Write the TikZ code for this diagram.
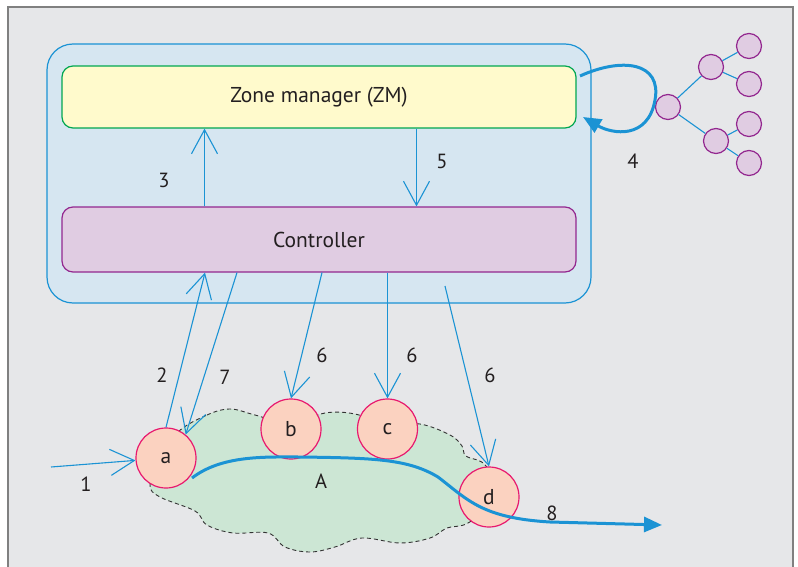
\documentclass[tikz,border=0pt]{standalone}
\usepackage{fontspec}
\setmainfont{PT Sans}
\usetikzlibrary{arrows.meta,calc}
\definecolor{panel}{HTML}{E6E7E9}
\definecolor{frameline}{HTML}{808080}
\definecolor{linkblue}{HTML}{1B93D4}
\definecolor{zonefill}{HTML}{D6E6F1}
\definecolor{zmfill}{HTML}{FFFACC}
\definecolor{zmline}{HTML}{00A651}
\definecolor{ctlfill}{HTML}{E0CCE2}
\definecolor{ctlline}{HTML}{93278F}
\definecolor{peerfill}{HTML}{FBD2C0}
\definecolor{peerline}{HTML}{E8196E}
\definecolor{cloudfill}{HTML}{CCE6D4}
\definecolor{ink}{HTML}{231F20}
\begin{document}
\begin{tikzpicture}[x=1pt,y=-1pt,
  every node/.style={text=ink},
  zonebox/.style={draw=linkblue,fill=zonefill,line width=1.2pt,rounded corners=26pt,
    minimum width=544pt,minimum height=259pt,inner sep=0pt},
  zmbox/.style={draw=zmline,fill=zmfill,line width=1.2pt,rounded corners=11pt,
    minimum width=514pt,minimum height=62pt,font=\fontsize{21.5}{24}\selectfont},
  ctlbox/.style={draw=ctlline,fill=ctlfill,line width=1.2pt,rounded corners=11pt,
    minimum width=514pt,minimum height=65pt,font=\fontsize{21.5}{24}\selectfont},
  peer/.style={circle,draw=peerline,fill=peerfill,line width=1.2pt,minimum size=60pt,
    inner sep=0pt,font=\fontsize{21.5}{24}\selectfont},
  treenode/.style={circle,draw=ctlline,fill=ctlfill,line width=1.2pt,minimum size=25pt,inner sep=0pt},
  msg/.style={draw=linkblue,line width=1.1pt,-{Straight Barb[length=24pt,width=26pt,line width=1.1pt]}},
  flow/.style={draw=linkblue,line width=3pt,-{Triangle[length=18pt,width=15pt]}},
  lbl/.style={font=\fontsize{20.5}{24}\selectfont,inner sep=0pt},
  treeedge/.style={draw=linkblue,line width=1.1pt}]
\useasboundingbox (0,0) rectangle (798,567);
% panel with its grey frame
\fill[panel] (8,7) rectangle (793,567);
\draw[frameline,line width=1.5pt] (8,567) -- (8,7) -- (793,7) -- (793,567);

% zone container, zone manager and controller
\node[zonebox] (zone) at (319,173.5) {};
\node[zmbox] (zm) at (319,97) {Zone manager (ZM)};
\node[ctlbox] (ctrl) at (319,239.5) {Controller};

% cloud of zone A
\draw[black!80,dashed,line width=0.9pt,dash pattern=on 4pt off 3pt,fill=cloudfill]
  plot[smooth cycle,tension=0.6] coordinates {
  (178,432) (207,415) (230,409) (255,415) (291,424) (325,413) (355,414) (387,425)
  (420,424) (450,435) (462,446) (466,456) (486,466) (495,500) (468,523) (447,528)
  (430,538) (400,543) (362,538) (335,547) (310,552) (285,547) (268,533) (233,533)
  (207,525) (195,511) (160,497) (150,485) (160,460)};

% peers
\node[peer] (a) at (166,458) {a};
\node[peer] (b) at (291,429) {b};
\node[peer] (c) at (387.5,429) {c};
\node[peer] (d) at (489,497) {d};

% hierarchy of other zones
\node[treenode] (r)  at (668,107) {};
\node[treenode] (r1) at (711,67) {};
\node[treenode] (r2) at (716,141) {};
\node[treenode] (l1) at (749,46) {};
\node[treenode] (l2) at (749,84) {};
\node[treenode] (l3) at (749,124) {};
\node[treenode] (l4) at (749,163) {};
\draw[treeedge] (r) -- (r1) (r) -- (r2) (r1) -- (l1) (r1) -- (l2) (r2) -- (l3) (r2) -- (l4);

% anchor columns for the vertical messages
\coordinate (x3) at (204.5,0);
\coordinate (x5) at (416.5,0);
\coordinate (x2) at (205,0);
\coordinate (x7) at (237,0);
\coordinate (x6b) at (322,0);
\coordinate (s6d) at (445,286);
\coordinate (s1) at (51,467);

% messages
\draw[msg] (ctrl.north -| x3) -- (zm.south -| x3);
\draw[msg] (zm.south -| x5) -- (ctrl.north -| x5);
\draw[msg] (a.north) -- (ctrl.south -| x2);
\draw[msg] (ctrl.south -| x7) -- (a.50);
\draw[msg] (ctrl.south -| x6b) -- (b.north);
\draw[msg] (ctrl.south -| c) -- (c.north);
\draw[msg] (s6d) -- (d.north);
\draw[msg] (s1) -- (a);

% request to the parent zone and back
\coordinate (z4a) at (580,76);
\coordinate (z4b) at (583,117);
\draw[flow] (z4a) .. controls (622,57) and (662,62) .. (655,100)
  .. controls (648,140) and (612,134) .. (z4b);

% data path through the zone
\coordinate (p8) at (662,525);
\draw[flow] ($(a)+(26,20)$) .. controls (222,455) and (265,457) .. (300,457)
  .. controls (375,458) and (408,459) .. (438,477)
  .. controls (468,500) and (482,518) .. (550,522) -- (p8);

% labels
\node[lbl] at (164,180) {3};
\node[lbl] at (442,161) {5};
\node[lbl] at (633,161) {4};
\node[lbl] at (162,375) {2};
\node[lbl] at (225,377) {7};
\node[lbl] at (322,355) {6};
\node[lbl] at (412,355) {6};
\node[lbl] at (490,375) {6};
\node[lbl] at (86,484) {1};
\node[lbl] at (321,481) {A};
\node[lbl] at (552,513) {8};
\end{tikzpicture}
\end{document}
